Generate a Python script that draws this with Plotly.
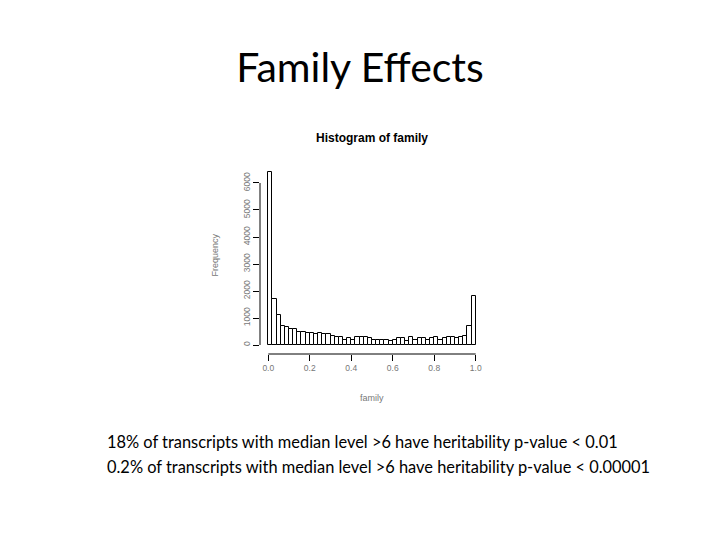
import plotly.graph_objects as go

# Histogram of family (bin width 0.02), counts
bin_left = [i * 0.02 for i in range(50)]
counts = [6400, 1700, 1100, 700, 650, 600, 600, 500, 500, 450,
          450, 400, 450, 400, 400, 350, 300, 300, 200, 250,
          200, 300, 300, 300, 250, 200, 200, 200, 200, 150,
          200, 250, 250, 150, 300, 200, 250, 250, 200, 250,
          300, 200, 250, 300, 300, 250, 300, 350, 700, 1800]
x_ticks = [0.0, 0.2, 0.4, 0.6, 0.8, 1.0]
x_tick_labels = ["0.0", "0.2", "0.4", "0.6", "0.8", "1.0"]
y_ticks = [0, 1000, 2000, 3000, 4000, 5000, 6000]
y_tick_labels = ["0", "1000", "2000", "3000", "4000", "5000", "6000"]

slide_title = "Family Effects"
line1 = "18% of transcripts with median level >6 have heritability p-value < 0.01"
line2 = "0.2% of transcripts with median level >6 have heritability p-value < 0.00001"

centers = [b + 0.01 for b in bin_left]

OFF = 8  # page offset of the figure
L, R, T, B = 259.7, 484.3, 170, 354
PW, PH = R - L, B - T

fig = go.Figure()
fig.add_trace(go.Bar(
    x=centers, y=counts, width=0.02,
    marker=dict(color="white", line=dict(color="black", width=1)),
    hoverinfo="skip",
))

tick_font = dict(family="Liberation Sans, Arial, sans-serif", size=8.5, color="#777")

fig.update_layout(
    width=720, height=540,
    paper_bgcolor="white", plot_bgcolor="white",
    margin=dict(l=L - OFF, r=720 - R + OFF, t=T - OFF, b=540 - B + OFF, autoexpand=False),
    showlegend=False,
    bargap=0,
    title=dict(text=slide_title, x=(360 - OFF) / 720, xanchor="center", y=1 - (68 - OFF) / 540,
               yanchor="middle", yref="container",
               font=dict(family="Lato, Liberation Sans, sans-serif", size=41, color="black")),
    xaxis=dict(range=[-0.04, 1.04], tickvals=x_ticks, ticktext=x_tick_labels,
               ticks="outside", ticklen=6, tickcolor="black", tickwidth=1,
               showgrid=False, zeroline=False, showline=False,
               tickfont=tick_font),
    yaxis=dict(range=[-333, 6481], tickvals=y_ticks, ticktext=y_tick_labels,
               ticks="outside", ticklen=6, tickcolor="black", tickwidth=1,
               tickangle=-90,
               showgrid=False, zeroline=False, showline=False,
               tickfont=tick_font),
)

# R-style detached axis lines spanning the tick range
fig.add_shape(type="line", xref="x", yref="paper", x0=x_ticks[0], x1=x_ticks[-1],
              y0=0, y1=0, line=dict(color="black", width=1))
fig.add_shape(type="line", xref="paper", yref="y", x0=0, x1=0,
              y0=y_ticks[0], y1=y_ticks[-1], line=dict(color="black", width=1))

fig.add_annotation(text="<b>Histogram of family</b>", xref="paper", yref="paper",
                   x=(372 - L) / PW, y=(B - 138) / PH, showarrow=False, xanchor="center", yanchor="middle",
                   font=dict(family="Liberation Sans, Arial, sans-serif", size=12, color="black"))
fig.add_annotation(text="family", xref="paper", yref="paper",
                   x=(372 - L) / PW, y=(B - 398) / PH, showarrow=False, xanchor="center", yanchor="middle",
                   font=dict(family="Liberation Sans, Arial, sans-serif", size=9, color="#777"))
fig.add_annotation(text="Frequency", xref="paper", yref="paper",
                   x=(215 - L) / PW, y=(B - 255) / PH, textangle=-90,
                   showarrow=False, xanchor="center", yanchor="middle",
                   font=dict(family="Liberation Sans, Arial, sans-serif", size=9, color="#777"))

for txt, ypix in [(line1, 441), (line2, 466)]:
    fig.add_annotation(text=txt, xref="paper", yref="paper",
                       x=(104 - L) / PW, y=(B - ypix) / PH,
                       showarrow=False, xanchor="left", yanchor="middle",
                       font=dict(family="Lato, Liberation Sans, sans-serif", size=16.4, color="black"))

fig.write_html("out.html")
